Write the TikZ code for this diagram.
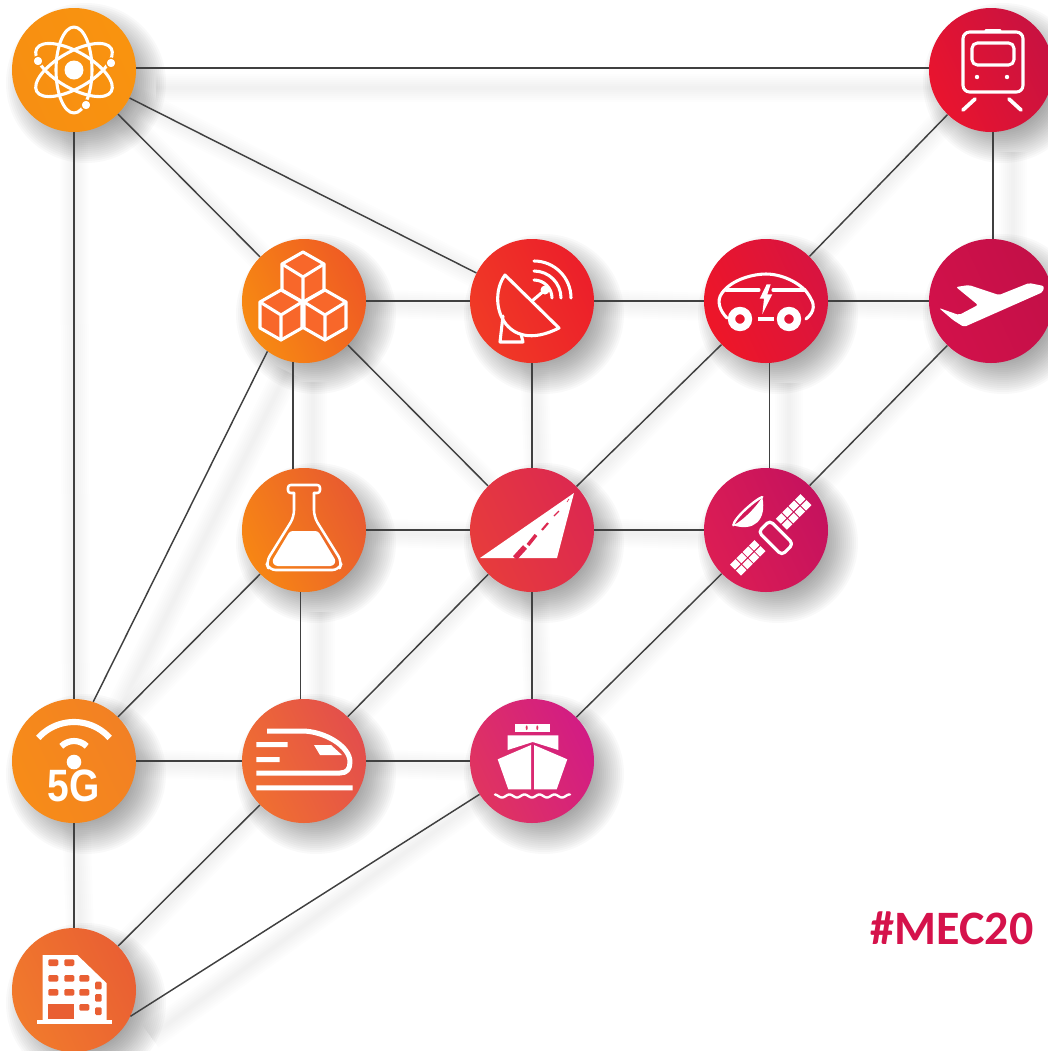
\documentclass[tikz,border=0pt]{standalone}
\usepackage{fontspec}
\setmainfont{Carlito}
\newfontfamily\badgefont{Liberation Sans}
\pgfdeclarelayer{shadowlayer}
\pgfsetlayers{shadowlayer,main}
\definecolor{atomleft}{HTML}{F78F12}\definecolor{atomright}{HTML}{F9930F}
\definecolor{cubesleft}{HTML}{F78A12}\definecolor{cubesright}{HTML}{EF5A24}
\definecolor{dishleft}{HTML}{F03A26}\definecolor{dishright}{HTML}{EC1F2A}
\definecolor{carleft}{HTML}{EE1628}\definecolor{carright}{HTML}{D81440}
\definecolor{planeleft}{HTML}{D2114A}\definecolor{planeright}{HTML}{C31048}
\definecolor{trainleft}{HTML}{E9142E}\definecolor{trainright}{HTML}{C81241}
\definecolor{flaskleft}{HTML}{F78614}\definecolor{flaskright}{HTML}{E85A30}
\definecolor{roadleft}{HTML}{E73C3C}\definecolor{roadright}{HTML}{DC2850}
\definecolor{satleft}{HTML}{DC1D54}\definecolor{satright}{HTML}{C5125E}
\definecolor{fivegleft}{HTML}{F78C18}\definecolor{fivegright}{HTML}{F28024}
\definecolor{bulletleft}{HTML}{F07030}\definecolor{bulletright}{HTML}{E34E4C}
\definecolor{shipleft}{HTML}{E03460}\definecolor{shipright}{HTML}{D21C84}
\definecolor{officeleft}{HTML}{F17A2C}\definecolor{officeright}{HTML}{E95F33}
\definecolor{cubeface}{HTML}{F8672A}
\definecolor{tagred}{HTML}{D5124B}
\begin{document}
\begin{tikzpicture}
[x=0.75pt,y=-0.75pt,
  hubnode/.style={shape=circle,minimum size=93pt,inner sep=0pt},%
  linkline/.style={-,line width=1.1pt,draw=black!75},%
  iconline/.style={draw=white,line width=2.3pt,line join=round,line cap=round},%
  iconfill/.style={fill=white},%
  tagtext/.style={text=tagred,font=\fontsize{36}{38}\selectfont\bfseries,inner sep=0pt},%
  fivegtext/.style={text=white,font=\badgefont\fontsize{34}{35}\selectfont\bfseries,inner sep=0pt}]
\useasboundingbox (0,0) rectangle (1048,1051);
%% nodes or vertices
\foreach \nodename/\x/\y in {atom/74/70, train/991/70, cubes/304/301, dish/532/301,
    car/766/301, plane/991/301, flask/304/530, road/532/530, sat/766/530,
    fiveg/74/761, bullet/304/761, ship/532/761, office/74/990} {
  \node (\nodename) at (\x,\y) [hubnode,left color=\nodename left,right color=\nodename right,shading angle=115] {};
  \begin{pgfonlayer}{shadowlayer}
    \foreach \r in {44,46,...,80} {
      \fill[black,opacity=0.022] (\x+12,\y+13) circle[radius=\r];
    }
  \end{pgfonlayer}
}
%% edges or lines
\foreach \startnode/\endnode in {atom.2/train.178, atom/cubes, atom/dish, atom/fiveg,
    train/car, train.272/plane.88, cubes.234/fiveg.72, cubes.260/flask.100, cubes/dish,
    cubes/road, dish/car, dish/road, car/plane, car/road, car.273/sat.87, plane/sat,
    flask/road, flask/fiveg, flask.267/bullet.93, road/sat, road/bullet, road/ship,
    sat/ship, fiveg/bullet, fiveg/office, bullet/ship, bullet/office, ship/office.-25} {
  \draw[linkline] (\startnode) -- (\endnode);
  \begin{pgfonlayer}{shadowlayer}
    \foreach \w in {3,6,...,21} {
      \draw[black,opacity=0.007,line width=\w pt] ([shift={(20,20)}]\startnode) -- ([shift={(20,20)}]\endnode);
    }
  \end{pgfonlayer}
}
%% atom
\begin{scope}[shift={(atom)}]
  \foreach \a in {0,60,-60} {
    \draw[iconline,rotate=\a] (0,0) ellipse[x radius=18,y radius=43];
  }
  \fill[iconfill] (0,0) circle[radius=9.5];
  \foreach \dx/\dy in {-36/-9, 37/-7, 12/35} {
    \draw[draw=atomleft,fill=white,line width=1pt] (\dx,\dy) circle[radius=5];
  }
\end{scope}
%% train
\begin{scope}[shift={(train)}]
  \draw[iconline,rounded corners=5pt] (-28,-38) rectangle (32,22);
  \draw[iconline,rounded corners=4pt] (-19,-27) rectangle (23,-5);
  \draw[iconline] (-5,-39) -- (9,-39);
  \fill[iconfill] (-14,7) circle[radius=2.2] (16,7) circle[radius=2.2];
  \draw[iconline,line width=2.8pt] (-28,40) -- (-16,29);
  \draw[iconline,line width=2.8pt] (30,40) -- (18,29);
\end{scope}
%% cubes
\begin{scope}[shift={(cubes)}]
  \foreach \cx/\cy in {-1/-24, -23/14, 21/14} {
    \draw[iconline,fill=cubeface] (\cx,\cy-25) -- (\cx+21,\cy-13) -- (\cx+21,\cy+13) -- (\cx,\cy+25) -- (\cx-21,\cy+13) -- (\cx-21,\cy-13) -- cycle;
    \draw[iconline] (\cx-21,\cy-13) -- (\cx,\cy) -- (\cx+21,\cy-13) (\cx,\cy) -- (\cx,\cy+25);
  }
\end{scope}
%% dish
\begin{scope}[shift={(dish)}]
  \draw[iconline] (-27,-26) .. controls (-46,0) and (-28,55) .. (27,27) -- cycle;
  \draw[iconline] (-29,15) -- (-32,41) -- (-9,41) -- (-11,33);
  \draw[iconline] (0,0) -- (13,-11);
  \fill[iconfill] (13,-11) circle[radius=4.5];
  \foreach \r in {18,27,37} {
    \draw[iconline] (2,-3) ++(-90:\r) arc[start angle=-90,end angle=0,radius=\r];
  }
\end{scope}
%% car
\begin{scope}[shift={(car)}]
  \draw[iconline] (-39,17) .. controls (-46,10) and (-50,0) .. (-44,-8) .. controls (-34,-22) and (-12,-27) .. (0,-27) .. controls (18,-27) and (38,-16) .. (44,-4) .. controls (48,2) and (50,10) .. (40,18);
  \draw[iconline] (-40,-11) -- (-7,-11) (7,-11) -- (39,-11);
  \fill[iconfill] (0.7,-16.7) -- (-6.3,-2.3) -- (-2,-2.3) -- (-3.7,13.3) -- (6.3,-6.7) -- (1.3,-6.7) -- (4.7,-16.7) -- cycle;
  \draw[draw=white,line width=5.5pt] (-26,18) circle[radius=8.5] (23,18) circle[radius=8.5];
  \draw[draw=white,line width=2.8pt] (-8,18) -- (8,18);
\end{scope}
%% plane
\begin{scope}[shift={(plane)}]
  \fill[iconfill,rounded corners=1.5pt] (53,-15) -- (38,-18) -- (8,-6) -- (-22,-16) -- (-35,-14) -- (-13,4) -- (-32,14) -- (-52,7) -- (-38,19) -- (-27,26) -- (52,-9) -- cycle;
\end{scope}
%% flask
\begin{scope}[shift={(flask)}]
  \draw[iconline,line width=1.9pt,rounded corners=2pt] (-10,-37) -- (-16,-37) -- (-16,-45) -- (16,-45) -- (16,-37) -- (10,-37);
  \draw[iconline,line width=1.9pt,rounded corners=5pt] (-10,-37) -- (-10,-13) -- (-38,32) -- (-35,40) -- (35,40) -- (38,32) -- (10,-13) -- (10,-37);
  \fill[iconfill,rounded corners=2pt] (-14,1) -- (14,1) -- (32,31) -- (29,36) -- (-29,36) -- (-32,31) -- cycle;
\end{scope}
%% road
\begin{scope}[shift={(road)}]
  \fill[iconfill] (42,-37) -- (-52,28) -- (25,28) -- cycle;
  \foreach \ax/\ay/\bx/\by/\w in {37/-31/35/-28/0.5, 27/-19/22/-14/1, 16/-7/10/0/1.6, 4/5/-4/15/2.6, -7/17/-17/28/4} {
    \draw[draw=roadright,line width=\w pt] (\ax,\ay) -- (\bx,\by);
  }
\end{scope}
%% satellite
\begin{scope}[shift={(sat)}]
  \draw[iconline,line width=1.8pt] (-3.7,-33) .. controls (-10,-31) and (-32,-12) .. (-32.7,-4.7);
  \fill[iconfill] (-3.7,-33) .. controls (1,-10) and (-12,2) .. (-32.7,-4.7) .. controls (-22,-10) and (-9,-24) .. cycle;
  \begin{scope}[rotate=45]
    \draw[iconline,line width=2.4pt,rounded corners=3pt] (-6.6,-4) rectangle (9.4,29);
    \foreach \cx in {15,24,33,42,-50,-41,-32,-23} {
      \foreach \cy in {-1,7.5} {
        \fill[iconfill] (\cx,\cy) rectangle (\cx+7.8,\cy+7);
      }
    }
  \end{scope}
\end{scope}
%% 5G
\begin{scope}[shift={(fiveg)}]
  \draw[draw=white,line width=4.6pt] (0,9) ++(-138:48) arc[start angle=-138,end angle=-42,radius=48];
  \draw[draw=white,line width=4.6pt] (0,-2) ++(-135:18) arc[start angle=-135,end angle=-45,radius=18];
  \fill[iconfill] (0,1) circle[radius=7.3];
  \node (fivegtag) at (0,25) [fivegtext] {\scalebox{0.86}[1]{5G}};
\end{scope}
%% bullet train
\begin{scope}[shift={(bullet)}]
  \draw[draw=white,line width=3.75pt,line join=round] (-37,-30) -- (-2,-30) .. controls (20,-30) and (46,-15) .. (46,1) .. controls (46,8) and (43,12) .. (36,12) -- (-47.7,12);
  \fill[iconfill] (10,-16) -- (27,-16) -- (38,-6) -- (16,-6) -- cycle;
  \fill[iconfill] (-47.7,-19) rectangle (-16.3,-14) (-47.7,-4) rectangle (-24.3,1) (-47.7,24.3) rectangle (48.7,29.3);
\end{scope}
%% ship
\begin{scope}[shift={(ship)}]
  \fill[iconfill] (-17,-37.3) rectangle (18,-29);
  \fill[shipleft] (-5.3,-33.3) ellipse[x radius=1,y radius=2.4] (5.3,-33.3) ellipse[x radius=1,y radius=2.4];
  \fill[iconfill] (-24.3,-25.7) -- (26.3,-25.7) -- (26.3,-11) -- (0.7,-19) -- (-24.3,-11) -- cycle;
  \fill[iconfill] (-34.3,-1.7) -- (-1,-16) -- (-1,28.3) -- (-23.7,28.3) -- cycle;
  \fill[iconfill] (2,-16) -- (35.3,-1.7) -- (24.7,28.3) -- (2,28.3) -- cycle;
  \draw[iconline,line width=1.8pt] plot[domain=-37:38,samples=100] (\x,{35+1.5*cos(\x*24)});
\end{scope}
%% office
\begin{scope}[shift={(office)}]
  \fill[iconfill] (-31.3,-35) -- (3.3,-35) -- (32.7,-6.7) -- (32.7,30) -- (-31.3,30) -- cycle;
  \fill[iconfill] (-36.7,30) rectangle (37.7,34.3);
  \foreach \wx/\wy in {-25.7/-30.7, -9.7/-30.7, -25.7/-15, -9.7/-15, 5.3/-15, -25.7/-1, -9.7/-1, 5.3/-1, 5.3/14} {
    \fill[officeright,rounded corners=1pt] (\wx,\wy) rectangle (\wx+10,\wy+6.7);
  }
  \foreach \wy in {-8.3,4,17.3} {
    \fill[officeright,rounded corners=1pt] (21,\wy) rectangle (27.7,\wy+7.7);
  }
  \fill[officeright] (-25.7,14) rectangle (0,29);
\end{scope}
\node (hashtag) at (952,928) [tagtext] {\#MEC20};
\end{tikzpicture}
\end{document}
